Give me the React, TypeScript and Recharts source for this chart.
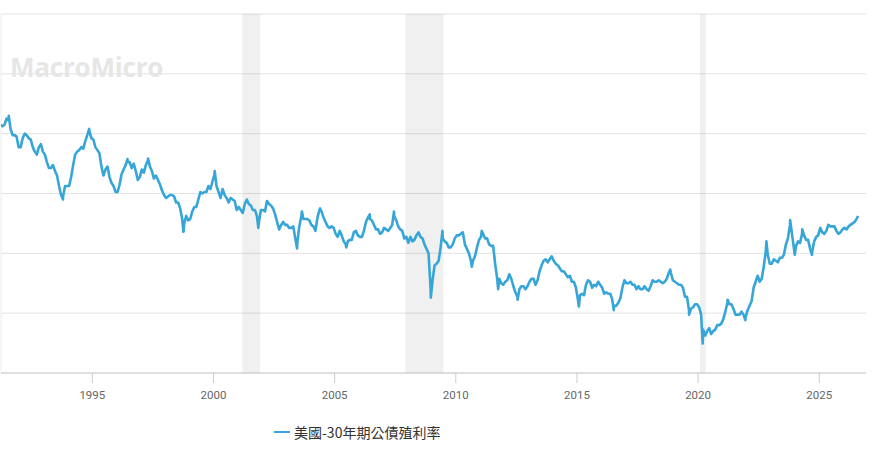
import {
  CartesianGrid,
  Legend,
  Line,
  LineChart,
  ReferenceArea,
  ReferenceLine,
  XAxis,
  YAxis,
} from 'recharts';

// first monthly value is March 1991
const startYear = 1991;
const startMonth = 3;

// 30-year Treasury yield (%), monthly
const monthlyYield = [
  /* 1991 */ 8.3, 8.25, 8.3, 8.5, 8.45, 8.15, 7.95, 7.95, 7.9, 7.55,
  /* 1992 */ 7.55, 7.85, 8.0, 7.95, 7.85, 7.8, 7.55, 7.4, 7.3, 7.55, 7.65, 7.4,
  /* 1993 */ 7.3, 7.05, 6.85, 6.85, 6.95, 6.75, 6.6, 6.25, 5.95, 5.9, 6.25, 6.25,
  /* 1994 */ 6.25, 6.55, 6.95, 7.3, 7.4, 7.45, 7.55, 7.5, 7.75, 7.95, 8.1, 7.85,
  /* 1995 */ 7.8, 7.55, 7.45, 7.35, 6.9, 6.6, 6.8, 6.9, 6.55, 6.35, 6.25, 6.05,
  /* 1996 */ 6.05, 6.3, 6.65, 6.8, 6.95, 7.05, 7.05, 6.85, 7.0, 6.75, 6.45, 6.55,
  /* 1997 */ 6.8, 6.7, 6.95, 7.1, 6.9, 6.75, 6.5, 6.6, 6.45, 6.3, 6.1, 5.95,
  /* 1998 */ 5.85, 5.9, 5.95, 5.95, 5.9, 5.7, 5.7, 5.5, 5.15, 5.0, 5.25, 5.1,
  /* 1999 */ 5.15, 5.4, 5.55, 5.55, 5.8, 6.05, 6.0, 6.05, 6.05, 6.25, 6.15, 6.4,
  /* 2000 */ 6.65, 6.25, 6.05, 5.85, 6.15, 5.95, 5.85, 5.7, 5.85, 5.8, 5.75, 5.45,
  /* 2001 */ 5.55, 5.45, 5.35, 5.65, 5.8, 5.65, 5.6, 5.45, 5.45, 5.25, 5.05, 5.45,
  /* 2002 */ 5.45, 5.4, 5.75, 5.65, 5.6, 5.5, 5.3, 5.05, 4.8, 4.95, 5.05, 4.95,
  /* 2003 */ 4.95, 4.85, 4.85, 4.9, 4.5, 4.35, 4.9, 5.25, 5.15, 5.15, 5.15, 5.1,
  /* 2004 */ 4.95, 4.9, 4.75, 5.2, 5.45, 5.4, 5.2, 5.05, 4.9, 4.85, 4.9, 4.85,
  /* 2005 */ 4.65, 4.55, 4.75, 4.6, 4.4, 4.3, 4.4, 4.45, 4.45, 4.7, 4.75, 4.6,
  /* 2006 */ 4.55, 4.55, 4.75, 5.05, 5.2, 5.15, 5.1, 4.95, 4.8, 4.8, 4.65, 4.7,
  /* 2007 */ 4.85, 4.8, 4.75, 4.85, 4.95, 5.25, 5.1, 4.9, 4.8, 4.75, 4.5, 4.55,
  /* 2008 */ 4.35, 4.55, 4.4, 4.45, 4.6, 4.7, 4.55, 4.5, 4.3, 4.15, 4.0, 2.85,
  /* 2009 */ 3.1, 3.6, 3.65, 3.75, 4.2, 4.5, 4.4, 4.35, 4.2, 4.2, 4.3, 4.5,
  /* 2010 */ 4.6, 4.6, 4.65, 4.7, 4.3, 4.15, 4.0, 3.75, 3.75, 3.9, 4.2, 4.45,
  /* 2011 */ 4.55, 4.65, 4.5, 4.5, 4.3, 4.25, 4.25, 3.65, 3.15, 3.15, 3.0, 2.95,
  /* 2012 */ 3.05, 3.1, 3.3, 3.15, 2.9, 2.7, 2.55, 2.8, 2.9, 2.9, 2.8, 2.9,
  /* 2013 */ 3.05, 3.15, 3.15, 2.95, 3.1, 3.4, 3.6, 3.75, 3.8, 3.7, 3.8, 3.9,
  /* 2014 */ 3.75, 3.65, 3.6, 3.5, 3.4, 3.4, 3.3, 3.2, 3.25, 3.05, 3.05, 2.85,
  /* 2015 */ 2.45, 2.6, 2.65, 2.6, 2.95, 3.1, 3.05, 2.85, 2.95, 2.9, 3.05, 2.95,
  /* 2016 */ 2.85, 2.65, 2.7, 2.65, 2.65, 2.45, 2.25, 2.25, 2.35, 2.5, 2.85, 3.1,
  /* 2017 */ 3.0, 3.0, 3.05, 2.95, 2.95, 2.8, 2.9, 2.8, 2.8, 2.9, 2.8, 2.75,
  /* 2018 */ 2.9, 3.1, 3.05, 3.05, 3.1, 3.05, 3.0, 3.05, 3.15, 3.35, 3.35, 3.1,
  /* 2019 */ 3.05, 3.0, 2.95, 2.95, 2.85, 2.55, 2.55, 2.1, 2.15, 2.2, 2.3, 2.3,
  /* 2020 */ 2.2, 1.95, 1.45, 1.25, 1.4, 1.5, 1.3, 1.4, 1.45, 1.6, 1.6, 1.65,
  /* 2021 */ 1.8, 2.05, 2.35, 2.3, 2.3, 2.15, 1.95, 1.95, 1.95, 2.05, 1.95, 1.85,
  /* 2022 */ 2.1, 2.25, 2.4, 2.85, 3.05, 3.25, 3.05, 3.15, 3.55, 4.05, 3.95, 3.65,
  /* 2023 */ 3.65, 3.8, 3.75, 3.7, 3.85, 3.85, 3.95, 4.3, 4.5, 4.95, 4.65, 4.15,
  /* 2024 */ 4.25, 4.4, 4.35, 4.65, 4.6, 4.45, 4.45, 4.15, 4.05, 4.4, 4.55, 4.6,
  /* 2025 */ 4.85, 4.7, 4.65, 4.75, 4.95, 4.9, 4.9, 4.9, 4.75, 4.65, 4.7, 4.8,
  /* 2026 */ 4.85, 4.8, 4.9, 4.95, 5.0, 5.05, 5.15,
];

// daily highs and lows that stand out in the picture: [decimal year, yield]
const dailyExtremes: [number, number][] = [
  [1991.55, 8.6], [1993.79, 5.8], [1994.87, 8.16], [1996.45, 7.15],
  [1997.3, 7.17], [1998.76, 4.72], [2000.05, 6.75], [2001.85, 4.85],
  [2003.45, 4.16], [2003.65, 5.4], [2004.4, 5.5], [2005.48, 4.2],
  [2006.45, 5.3], [2007.45, 5.4], [2008.97, 2.52], [2009.45, 4.75],
  [2010.66, 3.55], [2011.07, 4.75], [2011.75, 2.8], [2012.55, 2.45],
  [2015.08, 2.22], [2016.52, 2.1], [2018.85, 3.46], [2019.63, 1.95],
  [2020.19, 0.99], [2021.22, 2.45], [2021.95, 1.77], [2022.82, 4.4],
  [2023.8, 5.11], [2023.99, 3.95], [2024.3, 4.8], [2024.7, 3.95],
  [2026.6, 5.25],
];

// US recessions shaded in grey: [start, end] as decimal years
const recessions: [number, number][] = [
  [2001.19, 2001.93],
  [2007.92, 2009.49],
  [2020.08, 2020.32],
];

const yearTicks = [1995, 2000, 2005, 2010, 2015, 2020, 2025];
const yieldTicks = [0, 2, 4, 6, 8, 10, 12];
const seriesName = '美國-30年期公債殖利率';
const lineColor = '#36a5d7';

const chartData = [
  ...monthlyYield.map((v, i) => ({
    t: startYear + (startMonth - 1 + i) / 12 + 1 / 24,
    v,
  })),
  ...dailyExtremes.map(([t, v]) => ({ t, v })),
].sort((a, b) => a.t - b.t);

function LegendBox() {
  return (
    <div style={{ display: 'flex', alignItems: 'center', fontFamily: '"Noto Sans CJK TC", sans-serif', fontSize: 14, color: '#333' }}>
      <span style={{ display: 'inline-block', width: 16, height: 2, background: lineColor, marginRight: 4 }} />
      <span>{seriesName}</span>
    </div>
  );
}

export default function App() {
  return (
    <div style={{ position: 'absolute', left: 0, top: 0, width: 886, height: 451, background: '#fff' }}>
      <LineChart
        width={886}
        height={451}
        data={chartData}
        margin={{ top: 14, right: 20, left: 1, bottom: 48 }}
      >
        <CartesianGrid vertical={false} stroke="#e2e2e2" />
        {recessions.map(([a, b]) => (
          <ReferenceArea key={a} x1={a} x2={b} y1={0} y2={12} fill="#000" fillOpacity={0.06} stroke="none" />
        ))}
        <ReferenceLine x={1991.23} stroke="#ececec" />
        <XAxis
          type="number"
          dataKey="t"
          domain={[1991.23, 2026.93]}
          ticks={yearTicks}
          allowDataOverflow
          height={30}
          tickSize={10}
          tickMargin={8}
          tickFormatter={(t) => String(t)}
          stroke="#cccccc"
          tick={{ fill: '#666', fontSize: 11.5, fontFamily: 'Roboto, sans-serif' }}
        />
        <YAxis hide domain={[0, 12]} ticks={yieldTicks} />
        <Line
          type="linear"
          dataKey="v"
          name={seriesName}
          stroke={lineColor}
          strokeWidth={2.6}
          strokeLinejoin="round"
          dot={false}
          isAnimationActive={false}
        />
        <Legend
          layout="horizontal"
          align="center"
          verticalAlign="middle"
          wrapperStyle={{ left: 274, top: 422, width: 'auto' }}
          content={() => <LegendBox />}
        />
      </LineChart>
      <div
        style={{
          position: 'absolute',
          left: 10,
          top: 49,
          fontFamily: '"Open Sans", sans-serif',
          fontWeight: 700,
          fontSize: 26,
          color: '#e6e6e6',
          letterSpacing: -0.2,
          pointerEvents: 'none',
        }}
      >
        MacroMicro
      </div>
    </div>
  );
}
